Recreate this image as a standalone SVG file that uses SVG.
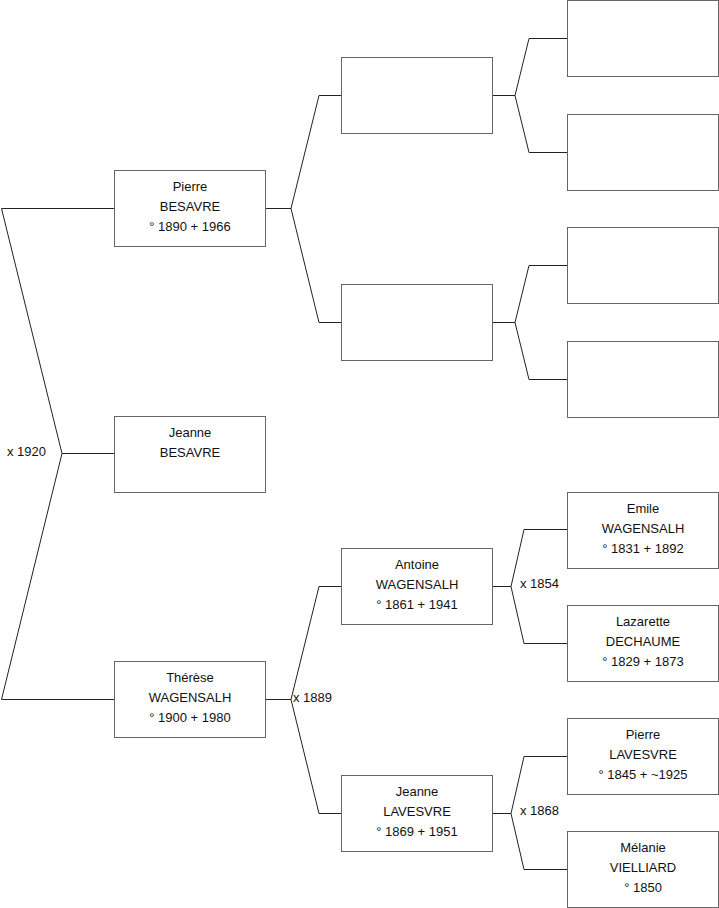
<svg xmlns="http://www.w3.org/2000/svg" width="719" height="908" viewBox="0 0 719 908">
<style>
.box{fill:#fff;stroke:#666;stroke-width:1}
.ln{fill:none;stroke:#222;stroke-width:1}
text{font-family:"Liberation Sans",Arial,sans-serif;font-size:13px;fill:#111}
.c{text-anchor:middle}
</style>
<rect width="719" height="908" fill="#fff"/>
<g id="connectors">
<path class="ln" d="M114,208.5 H1.5 L62,453.5 L1.5,699.5 H114 M62,453.5 H114"/>
<path class="ln" d="M265,208.5 H291 L319,95.5 H341 M291,208.5 L319,322.5 H341"/>
<path class="ln" d="M265,699.5 H291 L319,586.5 H341 M291,699.5 L319,813.5 H341"/>
<path class="ln" d="M492,95.5 H515 L529,38.5 H567 M515,95.5 L529,152.5 H567"/>
<path class="ln" d="M492,322.5 H515 L529,265.5 H567 M515,322.5 L529,379.5 H567"/>
<path class="ln" d="M492,586.5 H511 L524,529.5 H567 M511,586.5 L524,643.5 H567"/>
<path class="ln" d="M492,813.5 H511 L524,756.5 H567 M511,813.5 L524,869.5 H567"/>
<text x="7" y="456">x 1920</text>
<text x="293" y="702">x 1889</text>
<text x="520" y="588">x 1854</text>
<text x="520" y="815">x 1868</text>
</g>
<g id="n-pierre-besavre"><rect class="box" x="114.5" y="170.5" width="151" height="76"/>
<text class="c" x="190" y="191">Pierre</text><text class="c" x="190" y="211">BESAVRE</text><text class="c" x="190" y="231">° 1890 + 1966</text></g>
<g id="n-jeanne-besavre"><rect class="box" x="114.5" y="416.5" width="151" height="76"/>
<text class="c" x="190" y="437">Jeanne</text><text class="c" x="190" y="457">BESAVRE</text></g>
<g id="n-therese"><rect class="box" x="114.5" y="661.5" width="151" height="76"/>
<text class="c" x="190" y="682">Thérèse</text><text class="c" x="190" y="702">WAGENSALH</text><text class="c" x="190" y="722">° 1900 + 1980</text></g>
<g id="n-f1"><rect class="box" x="341.5" y="57.5" width="151" height="76"/></g>
<g id="n-m1"><rect class="box" x="341.5" y="284.5" width="151" height="76"/></g>
<g id="n-antoine"><rect class="box" x="341.5" y="548.5" width="151" height="76"/>
<text class="c" x="417" y="569">Antoine</text><text class="c" x="417" y="589">WAGENSALH</text><text class="c" x="417" y="609">° 1861 + 1941</text></g>
<g id="n-jeanne-lavesvre"><rect class="box" x="341.5" y="775.5" width="151" height="76"/>
<text class="c" x="417" y="796">Jeanne</text><text class="c" x="417" y="816">LAVESVRE</text><text class="c" x="417" y="836">° 1869 + 1951</text></g>
<g id="n-ff"><rect class="box" x="567.5" y="0.5" width="151" height="76"/></g>
<g id="n-fm"><rect class="box" x="567.5" y="114.5" width="151" height="76"/></g>
<g id="n-mf"><rect class="box" x="567.5" y="227.5" width="151" height="76"/></g>
<g id="n-mm"><rect class="box" x="567.5" y="341.5" width="151" height="76"/></g>
<g id="n-emile"><rect class="box" x="567.5" y="492.5" width="151" height="76"/>
<text class="c" x="643" y="513">Emile</text><text class="c" x="643" y="533">WAGENSALH</text><text class="c" x="643" y="553">° 1831 + 1892</text></g>
<g id="n-lazarette"><rect class="box" x="567.5" y="605.5" width="151" height="76"/>
<text class="c" x="643" y="626">Lazarette</text><text class="c" x="643" y="646">DECHAUME</text><text class="c" x="643" y="666">° 1829 + 1873</text></g>
<g id="n-pierre-lavesvre"><rect class="box" x="567.5" y="718.5" width="151" height="76"/>
<text class="c" x="643" y="739">Pierre</text><text class="c" x="643" y="759">LAVESVRE</text><text class="c" x="643" y="779">° 1845 + ~1925</text></g>
<g id="n-melanie"><rect class="box" x="567.5" y="831.5" width="151" height="76"/>
<text class="c" x="643" y="852">Mélanie</text><text class="c" x="643" y="872">VIELLIARD</text><text class="c" x="643" y="892">° 1850</text></g>
</svg>
